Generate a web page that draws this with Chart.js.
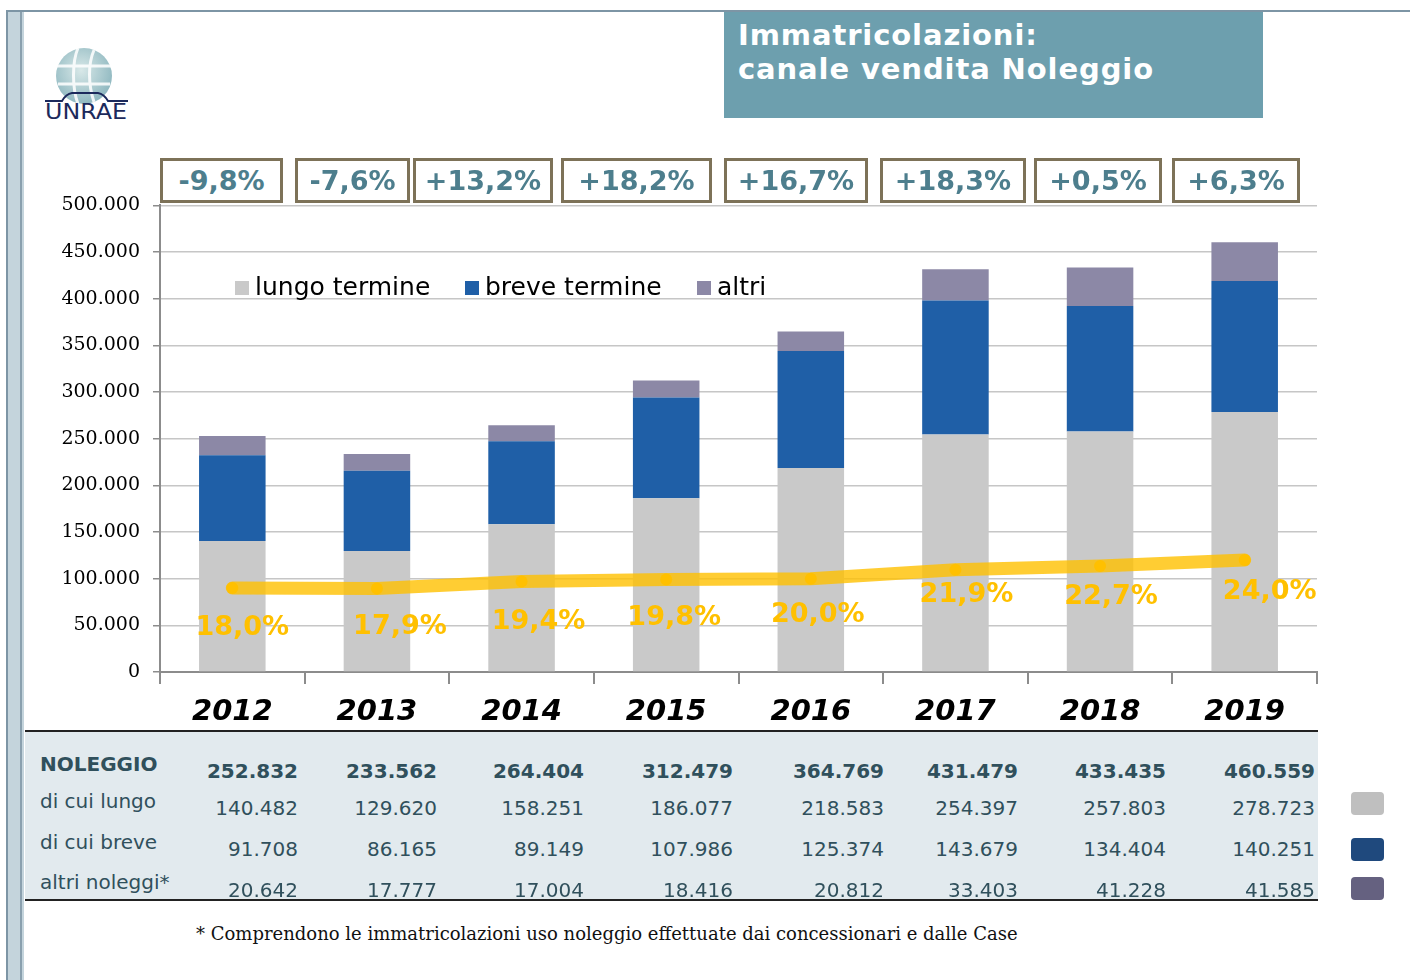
<!DOCTYPE html>
<html lang="it">
<head>
<meta charset="utf-8">
<title>Immatricolazioni: canale vendita Noleggio</title>
<script src="https://cdn.jsdelivr.net/npm/chart.js@4.4.0/dist/chart.umd.min.js"></script>
<style>
  html, body { margin: 0; padding: 0; background: #fff; }
  body { width: 1410px; height: 980px; position: relative; overflow: hidden; font-family: "DejaVu Sans", sans-serif; }
  .abs { position: absolute; }
  .title { left: 724px; top: 12px; width: 539px; height: 106px; background: #6d9fae; color: #fff;
           font: bold 29px "DejaVu Sans"; letter-spacing: 0.9px; line-height: 34px; box-sizing: border-box; padding: 6px 0 0 14px; }
  .growth { top: 158px; height: 45px; box-sizing: border-box; border: 3px solid #7d7258; background: #fff;
            color: #4d7e8d; font: bold 27px "DejaVu Sans"; text-align: center; line-height: 39px; }
  .leg { top: 272px; font: 25px "DejaVu Sans"; color: #000; line-height: 30px; white-space: nowrap; }
  .leg i { display: inline-block; width: 14px; height: 14px; margin-right: 6px; vertical-align: 0px; }
  .table { left: 25px; top: 730px; width: 1293px; height: 171px; background: #e2eaee;
           border-top: 2px solid #222; border-bottom: 2px solid #222; box-sizing: border-box; }
  .cell { font: 20px "DejaVu Sans"; color: #30505c; line-height: 24px; white-space: nowrap; }
  .cell.b { font-weight: bold; }
  .sw { left: 1351px; width: 33px; height: 23px; border-radius: 4px; }
  .note { left: 196px; top: 923px; font: 18px "DejaVu Serif"; color: #111; white-space: nowrap; }
</style>
</head>
<body>
<!-- cornice sinistra e superiore -->
<div class="abs" style="left:6px;top:10px;width:2px;height:970px;background:#7d95a5"></div>
<div class="abs" style="left:8px;top:12px;width:12px;height:968px;background:#c4d4dc"></div>
<div class="abs" style="left:20px;top:12px;width:2px;height:968px;background:#8aa0ae"></div>
<div class="abs" style="left:22px;top:12px;width:2px;height:968px;background:#c4d4dc"></div>
<div class="abs" style="left:6px;top:10px;width:1404px;height:2px;background:#7d95a5"></div>

<!-- logo -->
<svg class="abs" style="left:42px;top:44px" width="90" height="80" viewBox="0 0 90 80">
  <defs>
    <radialGradient id="g" cx="0.45" cy="0.4" r="0.6">
      <stop offset="0" stop-color="#d8e8e8"/>
      <stop offset="1" stop-color="#8fb8c0"/>
    </radialGradient>
  </defs>
  <circle cx="42" cy="32" r="28" fill="url(#g)"/>
  <path d="M36 4 C30 18 30 44 36 60 M14 22 L70 22 M16 40 L68 40 M52 6 C46 20 46 40 52 58" stroke="#fff" stroke-width="3" fill="none" opacity="0.85"/>
  <path d="M3 57 L20 57 Q24 50 30 49 L56 49 Q62 50 66 57 L86 57" stroke="#1c2a5c" stroke-width="2" fill="none"/>
  <text x="3" y="75" font-family="DejaVu Sans" font-size="22" fill="#1c2a5c" textLength="82" lengthAdjust="spacingAndGlyphs">UNRAE</text>
</svg>

<div class="abs title">Immatricolazioni:<br>canale vendita Noleggio</div>

<div class="abs" style="left:0;top:181px;width:1335px;height:554px">
  <canvas id="noleggioChart" width="1335" height="554"></canvas>
</div>

<div id="growthBoxes"></div>
<div id="legend"></div>

<div class="abs table"></div>
<div id="tableCells"></div>
<div class="abs sw" style="top:792px;background:#bfbfbf"></div>
<div class="abs sw" style="top:838px;background:#1f497d"></div>
<div class="abs sw" style="top:877px;background:#656180"></div>

<div class="abs note">* Comprendono le immatricolazioni uso noleggio effettuate dai concessionari e dalle Case</div>

<script>
// dati
const years = ['2012', '2013', '2014', '2015', '2016', '2017', '2018', '2019'];
const lungoTermine = [140482, 129620, 158251, 186077, 218583, 254397, 257803, 278723];
const breveTermine = [91708, 86165, 89149, 107986, 125374, 143679, 134404, 140251];
const altriNoleggi = [20642, 17777, 17004, 18416, 20812, 33403, 41228, 41585];
const totaleNoleggio = [252832, 233562, 264404, 312479, 364769, 431479, 433435, 460559];
const quotaNoleggio = [18.0, 17.9, 19.4, 19.8, 20.0, 21.9, 22.7, 24.0]; // % sul mercato
const variazioni = ['-9,8%', '-7,6%', '+13,2%', '+18,2%', '+16,7%', '+18,3%', '+0,5%', '+6,3%'];
const seriesNames = ['lungo termine', 'breve termine', 'altri'];
const rowLabels = ['NOLEGGIO', 'di cui lungo', 'di cui breve', 'altri noleggi*'];

const colors = ['#c9c9c9', '#1f5fa7', '#8c88a6'];

const fmt = (n) => String(n).replace(/\B(?=(\d{3})+(?!\d))/g, '.');

// riquadri variazione % (posizionati a mano come nell'originale)
const boxLeft = [160, 295, 413, 561, 724, 880, 1034, 1172];
const boxRight = [283, 410, 553, 712, 868, 1026, 1162, 1300];
document.getElementById('growthBoxes').innerHTML = variazioni.map((v, i) =>
  `<div class="abs growth" style="left:${boxLeft[i]}px;width:${boxRight[i] - boxLeft[i]}px">${v}</div>`).join('');

// legenda
const legLeft = [235, 465, 697];
document.getElementById('legend').innerHTML = seriesNames.map((s, i) =>
  `<div class="abs leg" style="left:${legLeft[i]}px"><i style="background:${colors[i]}"></i>${s}</div>`).join('');

// tabella
const colRight = [298, 437, 584, 733, 884, 1018, 1166, 1315];
const rowMid = [771, 808, 849, 890];
const labelMid = [764, 801, 842, 882];
const rows = [totaleNoleggio, lungoTermine, breveTermine, altriNoleggi];
let html = '';
rows.forEach((r, ri) => {
  const b = ri === 0 ? ' b' : '';
  html += `<div class="abs cell${b}" style="left:40px;top:${labelMid[ri] - 12}px">${rowLabels[ri]}</div>`;
  r.forEach((v, ci) => {
    html += `<div class="abs cell${b}" style="right:${1410 - colRight[ci]}px;top:${rowMid[ri] - 12}px">${fmt(v)}</div>`;
  });
});
document.getElementById('tableCells').innerHTML = html;

// etichette quota % sotto la linea (spostamenti come nell'originale)
const labelDx = [10, 23, 17, 8, 7, 11, 11, 25];
const labelDy = [40, 39, 41, 38, 36, 25, 31, 32];
const quotaLabels = {
  id: 'quotaLabels',
  afterDatasetsDraw(chart) {
    const meta = chart.getDatasetMeta(3);
    const ctx = chart.ctx;
    ctx.save();
    ctx.font = 'bold 27px "DejaVu Sans"';
    ctx.fillStyle = '#ffc000';
    ctx.textAlign = 'center';
    ctx.textBaseline = 'middle';
    meta.data.forEach((pt, i) => {
      ctx.fillText(quotaNoleggio[i].toFixed(1).replace('.', ',') + '%', pt.x + labelDx[i], pt.y + labelDy[i]);
    });
    ctx.restore();
  }
};

const ctx = document.getElementById('noleggioChart').getContext('2d');
new Chart(ctx, {
  type: 'bar',
  data: {
    labels: years,
    datasets: [
      { label: seriesNames[0], data: lungoTermine, backgroundColor: colors[0], order: 1 },
      { label: seriesNames[1], data: breveTermine, backgroundColor: colors[1], order: 1 },
      { label: seriesNames[2], data: altriNoleggi, backgroundColor: colors[2], order: 1 },
      {
        type: 'line',
        label: 'quota noleggio',
        data: quotaNoleggio,
        yAxisID: 'y2',
        order: 0,
        borderColor: 'rgba(255, 192, 0, 0.8)',
        borderWidth: 13,
        borderCapStyle: 'round',
        borderJoinStyle: 'round',
        pointRadius: 6,
        pointBackgroundColor: '#ffc000',
        pointBorderColor: '#ffc000',
        pointBorderWidth: 0,
        tension: 0,
      },
    ],
  },
  options: {
    responsive: false,
    animation: false,
    devicePixelRatio: 1,
    layout: { padding: { top: 0, right: 18, left: 0, bottom: 0 } },
    datasets: { bar: { barPercentage: 0.46, categoryPercentage: 1 } },
    plugins: { legend: { display: false }, tooltip: { enabled: false } },
    scales: {
      x: {
        stacked: true,
        grid: { offset: true, drawOnChartArea: false, drawTicks: true, tickLength: 12, color: '#8c8c8c', lineWidth: 2 },
        border: { color: '#8c8c8c', width: 2 },
        ticks: { color: '#000', padding: 11, font: { family: 'DejaVu Sans', size: 29, weight: 'bold', style: 'italic' } },
        afterFit: (s) => { s.height = 63; },
      },
      y: {
        stacked: true,
        min: 0,
        max: 500000,
        ticks: {
          stepSize: 50000,
          color: '#000',
          padding: 13,
          font: { family: 'DejaVu Serif', size: 19 },
          callback: (v) => fmt(v),
        },
        grid: { color: '#c6c6c6', lineWidth: 1.5, tickLength: 7, tickColor: '#8c8c8c' },
        border: { color: '#8c8c8c', width: 2 },
        afterFit: (s) => { s.width = 160; },
      },
      y2: { display: false, min: 0, max: 100 },
    },
  },
  plugins: [quotaLabels],
});
</script>
</body>
</html>
